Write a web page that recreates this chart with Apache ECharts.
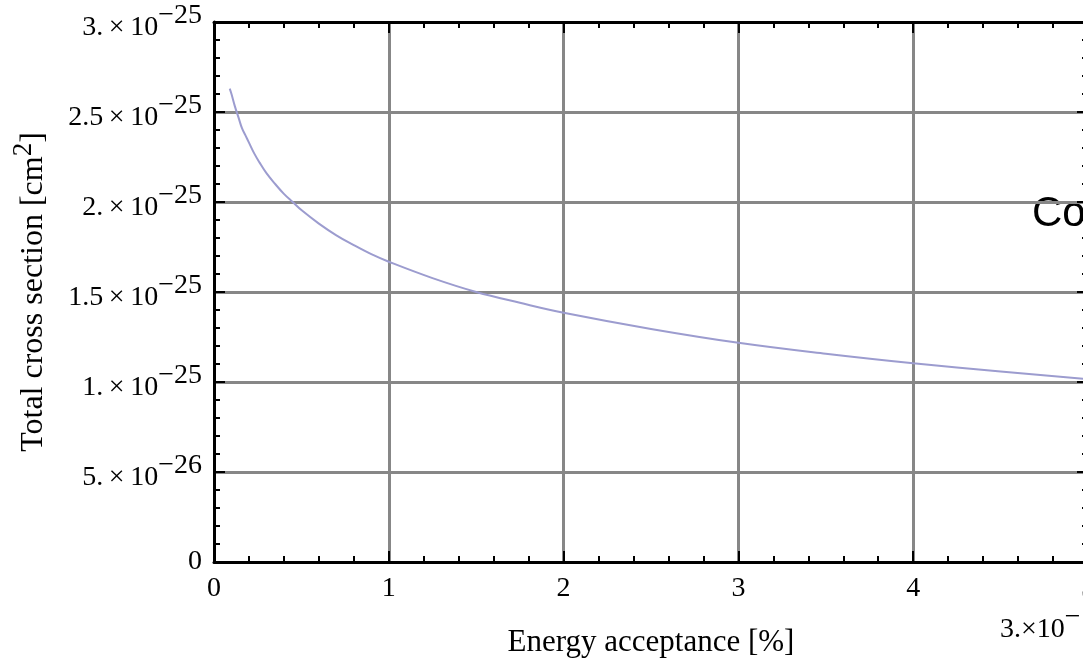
<!DOCTYPE html>
<html>
<head>
<meta charset="utf-8">
<script src="https://cdn.jsdelivr.net/npm/echarts@6/dist/echarts.min.js"></script>
<style>
  html, body { margin: 0; padding: 0; background: #fff; }
  #chart { width: 1083px; height: 660px; }
</style>
</head>
<body>
<div id="chart"></div>
<script>
  // energy acceptance [%] and total cross section (in units of 1e-25 cm^2)
  var energyAcceptance = [0.09, 0.1, 0.12, 0.14, 0.16, 0.18, 0.2, 0.23, 0.26, 0.3, 0.35, 0.4, 0.45, 0.5, 0.6, 0.7, 0.8, 0.9, 1.0, 1.25, 1.5, 1.75, 2.0, 2.5, 3.0, 3.5, 4.0, 4.5, 5.0];
  var crossSection = [2.63, 2.60, 2.53, 2.47, 2.41, 2.37, 2.33, 2.27, 2.22, 2.16, 2.10, 2.045, 2.00, 1.955, 1.88, 1.815, 1.76, 1.71, 1.668, 1.577, 1.50, 1.44, 1.385, 1.295, 1.218, 1.157, 1.104, 1.058, 1.015];

  var xTickLabels = ['0', '1', '2', '3', '4', '5'];
  var yTickValues = [0, 0.5, 1, 1.5, 2, 2.5, 3];
  var yTickMantissa = ['0', '5.', '1.', '1.5', '2.', '2.5', '3.'];
  var yTickExponent = ['', '\u221226', '\u221225', '\u221225', '\u221225', '\u221225', '\u221225'];

  var serif = '"Liberation Serif", "DejaVu Serif", serif';

  var chart = echarts.init(document.getElementById('chart'));

  var frameAxisLine = { show: true, onZero: false, lineStyle: { color: '#000', width: 3 } };
  var frameTick = { show: true, inside: true, length: 11, lineStyle: { color: '#000', width: 2 } };
  var frameMinor = { show: true, splitNumber: 5, length: 6, lineStyle: { color: '#000', width: 2 } };
  var grayGrid = { show: true, lineStyle: { color: '#878787', width: 3 } };

  var richLabel = {
    b: { fontFamily: serif, fontSize: 28, color: '#000', lineHeight: 22, padding: [12, 0, 0, 0] },
    e: { fontFamily: serif, fontSize: 28, color: '#000', lineHeight: 22, padding: [0, 0, 12, 0] },
    z: { fontFamily: serif, fontSize: 28, color: '#000', lineHeight: 22 }
  };

  chart.setOption({
    animation: false,
    backgroundColor: '#fff',
    grid: { left: 214, top: 22, width: 874, height: 540, containLabel: false, outerBoundsMode: 'none' },
    xAxis: [
      {
        type: 'value', position: 'bottom', min: 0, max: 5, interval: 1,
        axisLine: frameAxisLine, axisTick: frameTick, minorTick: frameMinor,
        splitLine: grayGrid, minorSplitLine: { show: false },
        axisLabel: {
          margin: 13, fontFamily: serif, fontSize: 28, color: '#000',
          showMaxLabel: true, showMinLabel: true,
          formatter: function (v) { return xTickLabels[Math.round(v)]; }
        },
        name: 'Energy acceptance [%]', nameLocation: 'middle', nameGap: 65,
        nameTextStyle: { fontFamily: serif, fontSize: 31, color: '#000' }
      },
      {
        type: 'value', position: 'top', min: 0, max: 5, interval: 1,
        axisLine: frameAxisLine, axisTick: frameTick, minorTick: frameMinor,
        splitLine: { show: false }, axisLabel: { show: false }
      }
    ],
    yAxis: [
      {
        type: 'value', position: 'left', min: 0, max: 3, interval: 0.5,
        axisLine: frameAxisLine, axisTick: frameTick, minorTick: frameMinor,
        splitLine: grayGrid,
        axisLabel: {
          margin: 12,
          formatter: function (v) {
            var i = yTickValues.indexOf(Math.round(v * 2) / 2);
            if (i <= 0) return '{z|0}';
            return '{b|' + yTickMantissa[i] + '\u2009\u00d7\u200910}{e|' + yTickExponent[i] + '}';
          },
          rich: richLabel
        },
        name: '{a|Total cross section [cm}{s|2}{a|]}', nameLocation: 'middle', nameGap: 172,
        nameTextStyle: {
          rich: {
            a: { fontFamily: serif, fontSize: 32, color: '#000', lineHeight: 26, padding: [10, 0, 0, 0] },
            s: { fontFamily: serif, fontSize: 27, color: '#000', lineHeight: 26, padding: [0, 0, 10, 0] }
          }
        }
      },
      {
        type: 'value', position: 'right', min: 0, max: 3, interval: 0.5,
        axisLine: frameAxisLine, axisTick: frameTick, minorTick: frameMinor,
        splitLine: { show: false }, axisLabel: { show: false }
      }
    ],
    series: [{
      type: 'line',
      xAxisIndex: 0, yAxisIndex: 0,
      data: energyAcceptance.map(function (x, i) { return [x, crossSection[i]]; }),
      showSymbol: false,
      smooth: 0.4,
      lineStyle: { color: '#9c9ccf', width: 2 },
      z: 3
    }],
    graphic: [
      {
        type: 'text', left: 1032, top: 193,
        style: { text: 'Co', fontFamily: '"Liberation Sans", Arial, sans-serif', fontSize: 42, fill: '#000' }
      },
      {
        type: 'text', left: 1000, top: 604,
        style: {
          text: '{b|3.\u00d710}{e|\u2212}',
          rich: richLabel
        }
      }
    ]
  });
</script>
</body>
</html>
